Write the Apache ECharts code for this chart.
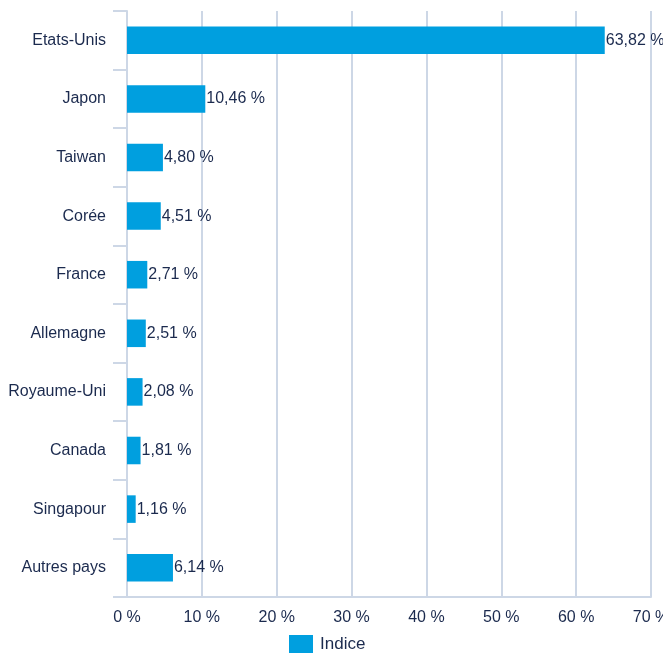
<!DOCTYPE html>
<html>
<head>
<meta charset="utf-8">
<script src="https://cdn.jsdelivr.net/npm/echarts@6/dist/echarts.min.js"></script>
<style>
  html, body { margin: 0; padding: 0; background: #fff; }
  #chart { width: 663px; height: 653px; }
</style>
</head>
<body>
<div id="chart"></div>
<script>
var countries = ['Etats-Unis', 'Japon', 'Taiwan', 'Corée', 'France', 'Allemagne', 'Royaume-Uni', 'Canada', 'Singapour', 'Autres pays']
var indice = [63.82, 10.46, 4.80, 4.51, 2.71, 2.51, 2.08, 1.81, 1.16, 6.14]
var seriesName = 'Indice'

var textColor = '#1b2a4e'
var lineColor = '#cdd7e6'

var myChart = echarts.init(document.getElementById('chart'))
var option = {
  animation: false,
  textStyle: { fontFamily: 'Liberation Sans, Arial, sans-serif' },
  grid: {
    left: 127,
    right: 12,
    top: 11,
    bottom: 56,
    outerBoundsMode: 'none',
    containLabel: false
  },
  legend: {
    data: [seriesName],
    top: 635,
    left: 289,
    icon: 'rect',
    itemWidth: 24,
    itemHeight: 18,
    itemGap: 6,
    padding: 0,
    textStyle: { color: textColor, fontSize: 17, padding: [0, 0, 0, 2] }
  },
  xAxis: {
    type: 'value',
    min: 0,
    max: 70,
    interval: 10,
    axisLine: { show: true, lineStyle: { color: lineColor, width: 2 } },
    axisTick: { show: false },
    splitLine: { show: true, lineStyle: { color: lineColor, width: 2 } },
    axisLabel: {
      color: textColor,
      fontSize: 16,
      margin: 13,
      formatter: function(v) { return v + ' %' }
    }
  },
  yAxis: {
    type: 'category',
    data: countries,
    inverse: true,
    axisLine: { show: true, lineStyle: { color: lineColor, width: 2 } },
    axisTick: { show: true, length: 14, lineStyle: { color: lineColor, width: 2 } },
    axisLabel: { color: textColor, fontSize: 16, margin: 21 }
  },
  series: [
    {
      name: seriesName,
      type: 'bar',
      data: indice,
      barWidth: '47%',
      itemStyle: { color: '#009fdf' },
      label: {
        show: true,
        position: 'right',
        distance: 1,
        color: textColor,
        fontSize: 16,
        formatter: function(p) { return p.value.toFixed(2).replace('.', ',') + ' %' }
      }
    }
  ]
}
myChart.setOption(option)
</script>
</body>
</html>
